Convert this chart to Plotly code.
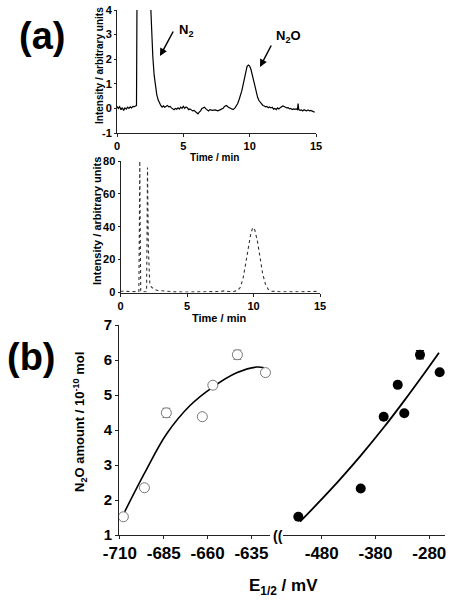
import plotly.graph_objects as go

W, H = 453, 600

# ---------------- data ----------------
# (a) top chromatogram: time (min) and intensity (arb. units)
top_time = [0.0, 0.1, 0.2, 0.3, 0.4, 0.5, 0.6, 0.7, 0.8, 0.9, 1.0, 1.1, 1.2, 1.3, 1.4, 1.47,
            1.52, 2.5, 2.56, 2.62, 2.7, 2.8, 2.9, 3.0, 3.1, 3.2, 3.3, 3.4, 3.5, 3.6, 3.7, 3.8,
            3.9, 4.0, 4.1, 4.2, 4.3, 4.4, 4.5, 4.6, 4.7, 4.8, 4.9, 5.0, 5.1, 5.2, 5.3, 5.4,
            5.5, 5.6, 5.7, 5.8, 5.9, 6.0, 6.1, 6.2, 6.3, 6.4, 6.5, 6.6, 6.7, 6.8, 6.9, 7.0,
            7.2, 7.4, 7.6, 7.8, 8.0, 8.1, 8.25, 8.4, 8.6, 8.75, 8.9, 9.0, 9.1, 9.2, 9.3, 9.4,
            9.5, 9.6, 9.7, 9.8, 9.9, 10.0, 10.1, 10.2, 10.3, 10.4, 10.5, 10.6, 10.7, 10.8,
            10.9, 11.0, 11.1, 11.2, 11.3, 11.4, 11.5, 11.6, 11.7, 11.8, 11.9, 12.0, 12.1,
            12.2, 12.3, 12.4, 12.5, 12.6, 12.7, 12.8, 12.9, 13.0, 13.1, 13.2, 13.3, 13.4,
            13.5, 13.6, 13.65, 13.7, 13.8, 13.9, 14.0, 14.1, 14.2, 14.3, 14.4, 14.5, 14.6,
            14.7, 14.8, 14.9]
top_signal = [0.08, 0.0, 0.07, -0.05, 0.03, -0.08, 0.02, -0.03, 0.05, 0.0, 0.06, 0.02, 0.08, 0.07, 0.1, 0.12,
              6.0, 6.0, 3.9, 3.05, 2.1, 1.35, 0.9, 0.55, 0.35, 0.2, 0.12, 0.05, 0.1, 0.05, 0.1, 0.12,
              0.06, 0.08, 0.02, -0.02, -0.05, 0.0, -0.03, 0.02, -0.03, 0.05, 0.0, 0.08, 0.0, 0.06, 0.03, -0.05,
              -0.02, -0.06, -0.1, -0.08, -0.12, -0.18, -0.22, -0.15, -0.1, 0.0, 0.03, 0.05, -0.02, -0.08, -0.1, -0.05,
              -0.08, -0.06, -0.1, -0.05, 0.0, 0.08, 0.12, 0.05, -0.02, -0.05, 0.02, 0.1, 0.2, 0.35, 0.5, 0.7,
              0.95, 1.25, 1.5, 1.7, 1.76, 1.72, 1.58, 1.35, 1.1, 0.85, 0.62, 0.45, 0.32, 0.25,
              0.18, 0.12, 0.1, 0.06, 0.08, 0.03, 0.06, 0.02, 0.05, -0.03, 0.0, -0.05, 0.02,
              -0.02, 0.03, 0.06, 0.1, 0.08, 0.05, 0.02, 0.03, -0.02, 0.0, -0.05, -0.02, -0.04,
              -0.02, -0.05, 0.2, -0.05, -0.08, -0.06, -0.1, -0.05, -0.08, -0.1, -0.06, -0.1, -0.08,
              -0.12, -0.13, -0.15]

# (a) bottom chromatogram
bot_time = [0.0, 0.3, 0.6, 0.9, 1.2, 1.38, 1.42, 1.45, 1.48, 1.52, 1.6, 1.8, 1.96, 2.0, 2.03,
            2.06, 2.1, 2.15, 2.2, 2.3, 2.5, 2.8, 3.2, 4.0, 5.0, 6.0, 7.0, 7.5, 7.8, 8.1, 8.5,
            8.8, 9.0, 9.2, 9.4, 9.6, 9.8, 9.95, 10.1, 10.3, 10.5, 10.7, 10.9, 11.1, 11.3,
            11.6, 12.0, 13.0, 14.0, 14.9]
bot_signal = [0.8, 0.7, 0.6, 0.6, 0.5, 0.5, 40, 80, 40, 1.0, 0.5, 0.4, 0.5, 40, 76,
              52, 26, 12, 6, 3.5, 2.0, 1.2, 0.8, 0.4, 0.3, 0.4, 0.3, 0.6, 1.0, 0.6, 0.6,
              1.2, 3, 8, 17, 28, 36, 39.5, 38, 31, 21, 11, 5, 2, 0.8,
              0.5, 0.5, 0.4, 0.6, 0.7]

# (b) N2O amount (1e-10 mol) vs E1/2 (mV)
left_E = [-708, -696, -683.5, -663, -657, -643, -627]
left_N2O = [1.52, 2.35, 4.49, 4.38, 5.28, 6.15, 5.64]
left_err = [0, 0, 0.13, 0, 0, 0.13, 0]
left_fit_E = [-707.3, -695.8, -683.5, -670.0, -657.2, -643.1, -632.0, -627.9]
left_fit_N2O = [1.66, 2.78, 3.88, 4.70, 5.22, 5.64, 5.80, 5.78]

right_E = [-523.5, -407.5, -364.8, -338.7, -326.5, -297.3, -260.7]
right_N2O = [1.52, 2.33, 4.38, 5.29, 4.48, 6.15, 5.65]
right_err = [0, 0, 0, 0, 0, 0.12, 0]
right_fit_E = [-520.3, -464.3, -407.5, -364.8, -326.5, -297.3, -262.0]
right_fit_N2O = [1.38, 2.28, 3.27, 4.07, 4.84, 5.45, 6.21]

top_xticks = [0, 5, 10, 15]
top_yticks = [-1, 0, 1, 2, 3, 4]
bot_yticks = [0, 20, 40, 60, 80]
b_yticks = [1, 2, 3, 4, 5, 6, 7]
left_xticks = [-710, -685, -660, -635]
right_xticks = [-480, -380, -280]

# ---------------- helpers ----------------
FONT = "Arial, Liberation Sans, sans-serif"


def px(x):
    """window pixel x -> paper fraction"""
    return x / W


def py(y):
    """window pixel y -> paper fraction"""
    return 1 - y / H


def bold_ticks(vals):
    return [f"<b>{v}</b>" for v in vals]


def axis_style(vals, size, ticklen=3):
    return dict(showline=True, linecolor="#222", linewidth=1, ticks="outside",
                ticklen=ticklen, tickcolor="#222", showgrid=False, zeroline=False,
                ticklabeloverflow="allow",
                tickmode="array", tickvals=vals, ticktext=bold_ticks(vals),
                tickfont=dict(family=FONT, size=size, color="black"))


fig = go.Figure()

fig.add_trace(go.Scatter(x=top_time, y=top_signal, mode="lines", xaxis="x", yaxis="y",
                         line=dict(color="black", width=1.2), showlegend=False))
fig.add_trace(go.Scatter(x=bot_time, y=bot_signal, mode="lines", xaxis="x2", yaxis="y2",
                         line=dict(color="#333", width=1.1, dash="dot"), showlegend=False))

fig.add_trace(go.Scatter(x=left_fit_E, y=left_fit_N2O, mode="lines", xaxis="x3", yaxis="y3",
                         line=dict(color="black", width=1.6, shape="spline", smoothing=1.0),
                         showlegend=False))
fig.add_trace(go.Scatter(x=left_E, y=left_N2O, mode="markers", xaxis="x3", yaxis="y3",
                         marker=dict(size=10, color="white", line=dict(color="#777", width=1)),
                         error_y=dict(type="data", array=left_err, color="#777", thickness=1, width=4),
                         cliponaxis=False, showlegend=False))

fig.add_trace(go.Scatter(x=right_fit_E, y=right_fit_N2O, mode="lines", xaxis="x4", yaxis="y3",
                         line=dict(color="black", width=1.8, shape="spline", smoothing=1.0),
                         showlegend=False))
fig.add_trace(go.Scatter(x=right_E, y=right_N2O, mode="markers", xaxis="x4", yaxis="y3",
                         marker=dict(size=10, color="black"),
                         error_y=dict(type="data", array=right_err, color="black", thickness=1, width=4),
                         cliponaxis=False, showlegend=False))

fig.update_layout(
    width=W, height=H, autosize=False,
    margin=dict(l=0, r=0, t=0, b=0, pad=0, autoexpand=False),
    showlegend=False, hovermode=False,
    paper_bgcolor="white", plot_bgcolor="white",
    xaxis=dict(domain=[px(117), px(316)], range=[0, 15], anchor="y",
               **axis_style(top_xticks, 11)),
    yaxis=dict(domain=[py(133), py(10)], range=[-1, 4], anchor="x",
               **axis_style(top_yticks, 11, 2)),
    xaxis2=dict(domain=[px(120.5), px(320)], range=[0, 15], anchor="y2",
                **axis_style(top_xticks, 11)),
    yaxis2=dict(domain=[py(292.5), py(161)], range=[0, 80], anchor="x2",
                **axis_style(bot_yticks, 11, 2)),
    xaxis3=dict(domain=[px(119), px(269.5)], range=[-710.5, -624.7], anchor="y3",
                **axis_style(left_xticks, 17)),
    yaxis3=dict(domain=[py(535), py(325)], range=[1, 7], anchor="x3",
                **axis_style(b_yticks, 15)),
    xaxis4=dict(domain=[px(283), px(445)], range=[-552, -250.8], anchor="y3",
                **axis_style(right_xticks, 17)),
)


def label(text, x, y, size, angle=0):
    fig.add_annotation(text=f"<b>{text}</b>", x=px(x), y=py(y), xref="paper", yref="paper",
                       showarrow=False, xanchor="center", yanchor="middle", textangle=angle,
                       font=dict(family=FONT, size=size, color="black"))


label("(a)", 42, 36, 38)
label("(b)", 31, 357, 38)
label("Intensity / arbitrary units", 100, 66, 10, -90)
label("Time / min", 214, 157, 10)
label("Intensity / arbitrary units", 97, 221, 11, -90)
label("Time / min", 219, 318, 11)
label("N<sub>2</sub>O amount / 10<sup>-10</sup> mol", 80, 422, 13, -90)
label("E<sub>1/2</sub> / mV", 283, 587, 17)
label("((", 278, 536, 14)
label("N<sub>2</sub>", 186, 30, 13)
label("N<sub>2</sub>O", 288, 37, 13)

for hx, hy, ax, ay in [(160, 56, 14, -26), (260, 67, 12, -23)]:
    fig.add_annotation(text="", x=px(hx), y=py(hy), xref="paper", yref="paper",
                       showarrow=True, ax=ax, ay=ay, arrowhead=2, arrowsize=1,
                       arrowwidth=1.5, arrowcolor="black")

# remove the default page margin so the figure sits at the window's top-left corner
fig.write_html("out.html", config={"displayModeBar": False},
               post_script="document.body.style.margin='0';")
